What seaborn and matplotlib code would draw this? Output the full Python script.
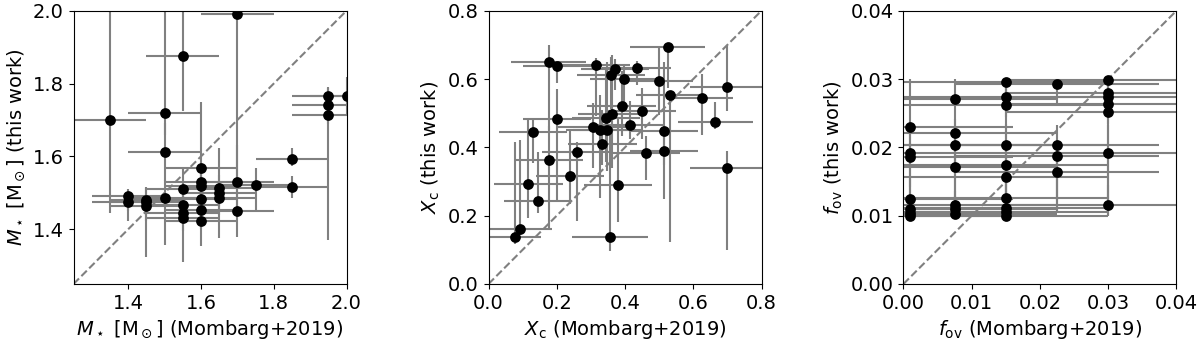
import numpy as np
import pandas as pd
import matplotlib
matplotlib.use("Agg")
import matplotlib.pyplot as plt
import seaborn as sns

# Stellar mass: Mombarg+2019 vs this work
mass_ref = [1.35, 1.50, 1.55, 1.70, 1.50, 1.95, 2.00, 1.95, 1.95, 1.85, 1.85,
            1.75, 1.70, 1.70, 1.60, 1.60, 1.60, 1.60, 1.60, 1.60, 1.65, 1.65,
            1.65, 1.55, 1.55, 1.55, 1.55, 1.50, 1.45, 1.45, 1.45, 1.40, 1.40]
mass_fit = [1.70, 1.72, 1.875, 1.99, 1.612, 1.767, 1.767, 1.74, 1.715, 1.593,
            1.516, 1.522, 1.531, 1.45, 1.569, 1.529, 1.518, 1.482, 1.452, 1.423,
            1.514, 1.50, 1.487, 1.51, 1.468, 1.445, 1.43, 1.486, 1.481, 1.474,
            1.463, 1.49, 1.474]
mass_ref_err = [0.1] * 33
mass_fit_lo = [0.255, 0.06, 0.15, 0.45, 0.08, 0.05, 0.05, 0.05, 0.345, 0.02,
               0.03, 0.07, 0.08, 0.07, 0.05, 0.05, 0.04, 0.05, 0.05, 0.07,
               0.05, 0.06, 0.11, 0.06, 0.05, 0.05, 0.12, 0.13, 0.04, 0.05,
               0.14, 0.04, 0.05]
mass_fit_hi = [0.35, 0.35, 0.2, 0.1, 0.08, 0.02, 0.05, 0.05, 0.05, 0.03,
               0.03, 0.045, 0.1, 0.08, 0.18, 0.05, 0.04, 0.04, 0.04, 0.03,
               0.11, 0.05, 0.04, 0.06, 0.05, 0.05, 0.05, 0.05, 0.035, 0.04,
               0.03, 0.02, 0.03]

# Central hydrogen fraction
xc_ref = [0.078, 0.091, 0.117, 0.131, 0.145, 0.177, 0.20, 0.178, 0.20, 0.239,
          0.258, 0.315, 0.305, 0.327, 0.348, 0.334, 0.345, 0.362, 0.358, 0.37,
          0.356, 0.379, 0.396, 0.39, 0.414, 0.434, 0.45, 0.462, 0.50, 0.525,
          0.531, 0.515, 0.514, 0.625, 0.665, 0.70, 0.70]
xc_fit = [0.137, 0.162, 0.292, 0.444, 0.242, 0.65, 0.638, 0.363, 0.482, 0.315,
          0.385, 0.642, 0.46, 0.452, 0.451, 0.409, 0.486, 0.499, 0.613, 0.629,
          0.137, 0.29, 0.601, 0.522, 0.465, 0.632, 0.505, 0.383, 0.595, 0.695,
          0.553, 0.449, 0.389, 0.545, 0.474, 0.577, 0.339]
xc_ref_err = [0.075, 0.095, 0.1, 0.1, 0.1, 0.11, 0.1, 0.1, 0.1, 0.1,
              0.1, 0.1, 0.1, 0.1, 0.1, 0.1, 0.1, 0.1, 0.1, 0.1,
              0.11, 0.1, 0.1, 0.1, 0.1, 0.1, 0.1, 0.1, 0.1, 0.11,
              0.1, 0.1, 0.1, 0.09, 0.11, 0.11, 0.11]
xc_fit_lo = [0.02, 0.02, 0.1, 0.09, 0.035, 0.2, 0.05, 0.2, 0.24, 0.08,
             0.2, 0.15, 0.12, 0.2, 0.12, 0.06, 0.13, 0.16, 0.1, 0.06,
             0.04, 0.11, 0.08, 0.09, 0.04, 0.05, 0.08, 0.08, 0.1, 0.12,
             0.43, 0.1, 0.14, 0.11, 0.02, 0.07, 0.24]
xc_fit_hi = [0.28, 0.26, 0.19, 0.04, 0.145, 0.05, 0.0, 0.1, 0.09, 0.14,
             0.03, 0.02, 0.07, 0.1, 0.2, 0.1, 0.14, 0.17, 0.05, 0.03,
             0.3, 0.2, 0.04, 0.1, 0.07, 0.02, 0.07, 0.05, 0.1, 0.0,
             0.0, 0.2, 0.05, 0.07, 0.06, 0.12, 0.05]

# Overshoot parameter
fov_ref = [0.001, 0.001, 0.001, 0.001, 0.001, 0.001, 0.001,
           0.0075, 0.0075, 0.0075, 0.0075, 0.0075, 0.0075, 0.0075,
           0.015, 0.015, 0.015, 0.015, 0.015, 0.015, 0.015, 0.015, 0.015, 0.015,
           0.0225, 0.0225, 0.0225, 0.0225,
           0.03, 0.03, 0.03, 0.03, 0.03, 0.03, 0.03]
fov_fit = [0.023, 0.0192, 0.0186, 0.0124, 0.0109, 0.0104, 0.0100,
           0.027, 0.0221, 0.0203, 0.0171, 0.0116, 0.0109, 0.0103,
           0.0296, 0.0274, 0.0262, 0.0204, 0.0174, 0.0156, 0.0126, 0.0111, 0.0106, 0.0100,
           0.0292, 0.0203, 0.0187, 0.0164,
           0.0298, 0.028, 0.0273, 0.0264, 0.0251, 0.0192, 0.0115]
fov_ref_err = [0.015] * 35
fov_fit_lo = [0.003, 0.005, 0.0086, 0.002, 0.001, 0.0004, 0.0,
              0.004, 0.005, 0.009, 0.005, 0.0016, 0.0009, 0.0003,
              0.002, 0.003, 0.016, 0.004, 0.005, 0.004, 0.002, 0.001, 0.0006, 0.0,
              0.003, 0.008, 0.008, 0.006,
              0.002, 0.002, 0.002, 0.003, 0.015, 0.008, 0.0015]
fov_fit_hi = [0.007, 0.003, 0.002, 0.003, 0.002, 0.002, 0.002,
              0.003, 0.002, 0.002, 0.003, 0.002, 0.002, 0.002,
              0.0004, 0.002, 0.003, 0.003, 0.003, 0.002, 0.003, 0.002, 0.002, 0.002,
              0.0006, 0.003, 0.002, 0.003,
              0.0002, 0.0015, 0.002, 0.002, 0.002, 0.004, 0.003]

sns.set_style("ticks", {'axes.edgecolor': 'black', 'text.color': 'black',
                        'axes.labelcolor': 'black', 'xtick.color': 'black',
                        'ytick.color': 'black'})
plt.rcParams['font.family'] = ['DejaVu Sans']
plt.rcParams['mathtext.fontset'] = 'dejavusans'
plt.rcParams['font.size'] = 14

panels = [
    (mass_ref, mass_fit, mass_ref_err, mass_fit_lo, mass_fit_hi,
     (1.25, 2.0), [1.4, 1.6, 1.8, 2.0], '%.1f',
     r'$M_\star$ [M$_\odot$] (Mombarg+2019)', r'$M_\star$ [M$_\odot$] (this work)'),
    (xc_ref, xc_fit, xc_ref_err, xc_fit_lo, xc_fit_hi,
     (0.0, 0.8), [0.0, 0.2, 0.4, 0.6, 0.8], '%.1f',
     r'$X_{\rm c}$ (Mombarg+2019)', r'$X_{\rm c}$ (this work)'),
    (fov_ref, fov_fit, fov_ref_err, fov_fit_lo, fov_fit_hi,
     (0.0, 0.04), [0.0, 0.01, 0.02, 0.03, 0.04], '%.2f',
     r'$f_{\rm ov}$ (Mombarg+2019)', r'$f_{\rm ov}$ (this work)'),
]

fig, axes = plt.subplots(1, 3, figsize=(12, 3.45), dpi=100)
fig.subplots_adjust(left=0.0613, right=0.9804, bottom=0.177, top=0.969, wspace=0.52)

for ax, (xr, yf, xe, ylo, yhi, lim, ticks, fmt, xl, yl) in zip(axes, panels):
    df = pd.DataFrame({'ref': xr, 'fit': yf})
    # error bars first, points on top
    ax.errorbar(xr, yf, xerr=xe, yerr=[ylo, yhi], fmt='none',
                ecolor='grey', elinewidth=1.5, capsize=0, zorder=1)
    ax.plot(lim, lim, '--', color='grey', lw=1.5, zorder=2)
    sns.scatterplot(data=df, x='ref', y='fit', color='black', s=60,
                    edgecolor='black', linewidth=0, ax=ax, zorder=3)
    ax.set_xlim(lim)
    ax.set_ylim(lim)
    ax.set_xticks(ticks)
    ax.set_yticks(ticks)
    ax.xaxis.set_major_formatter(matplotlib.ticker.FormatStrFormatter(fmt))
    ax.yaxis.set_major_formatter(matplotlib.ticker.FormatStrFormatter(fmt))
    ax.set_xlabel(xl)
    ax.set_ylabel(yl)
    ax.tick_params(labelsize=14)

plt.savefig("out.png", dpi=100)
